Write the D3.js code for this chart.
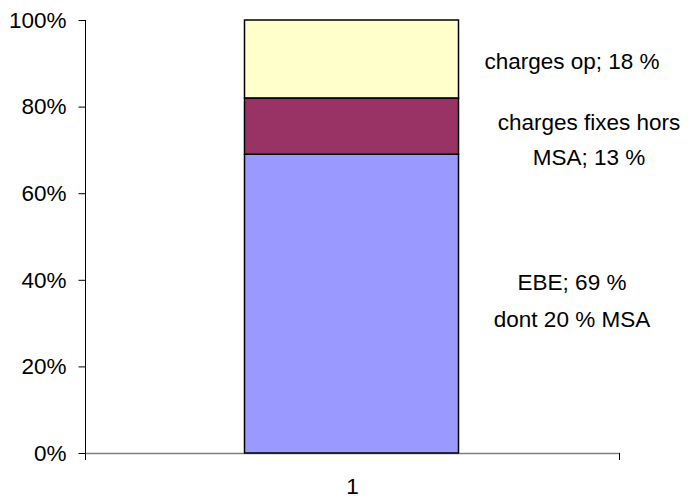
<!DOCTYPE html>
<html><head><meta charset="utf-8">
<script src="https://cdn.jsdelivr.net/npm/d3@7"></script>
<style>body{margin:0;background:#fff}text{font-family:"Liberation Sans",Arial,sans-serif}</style>
</head><body>
<svg id="c" width="690" height="498"></svg>
<script>
const categories = ["1"];
const seriesNames = ["EBE", "charges fixes hors MSA", "charges op"];
const seriesValues = [69, 13, 18];
const seriesColors = ["#9999FF", "#993366", "#FFFFCC"];
const labelLines = [["EBE; 69 %", "dont 20 % MSA"], ["charges fixes hors", "MSA; 13 %"], ["charges op; 18 %"]];
const yTicks = [0, 20, 40, 60, 80, 100];

(function () {
const svg = d3.select("#c");
const mLeft = 85, mRight = 620, mTop = 20, mBottom = 453;
const x = d3.scaleBand().domain(categories).range([mLeft, mRight]).paddingInner(0).paddingOuter(0);
const y = d3.scaleLinear().domain([0, 100]).range([mBottom, mTop]);

let cum = 0;
const stacks = seriesValues.map((v, i) => { const s = {y0: cum, y1: cum + v, i}; cum += v; return s; });

// x axis
svg.append("line").attr("x1", mLeft).attr("x2", mRight).attr("y1", mBottom + 0.5).attr("y2", mBottom + 0.5)
  .attr("stroke", "#808080").attr("stroke-width", 1.5);
svg.append("line").attr("x1", mRight - 0.5).attr("x2", mRight - 0.5).attr("y1", mBottom).attr("y2", mBottom + 7)
  .attr("stroke", "#000").attr("stroke-width", 1);
// y axis
const yAxis = d3.axisLeft(y).tickValues(yTicks).tickFormat(d => d + "%").tickSize(7).tickPadding(12);
const gy = svg.append("g").attr("transform", `translate(${mLeft + 0.5},0)`).call(yAxis);
gy.select(".domain").remove();
gy.selectAll(".tick line").attr("stroke", "#000");
gy.selectAll(".tick text").attr("font-size", "22.5px").attr("fill", "#000").attr("font-family", '"Liberation Sans",Arial,sans-serif');
svg.append("line").attr("x1", mLeft + 0.5).attr("x2", mLeft + 0.5).attr("y1", mTop).attr("y2", mBottom + 7)
  .attr("stroke", "#000").attr("stroke-width", 1);

// bars
const bw = x.bandwidth() * 0.4;
const bx = x(categories[0]) + (x.bandwidth() - bw) / 2 - 1;
svg.selectAll("rect.seg").data(stacks).join("rect")
  .attr("x", bx).attr("width", bw)
  .attr("y", d => y(d.y1)).attr("height", d => y(d.y0) - y(d.y1))
  .attr("fill", d => seriesColors[d.i]).attr("stroke", "#000").attr("stroke-width", 1.5);

// category label
svg.append("text").attr("x", x(categories[0]) + x.bandwidth() / 2).attr("y", 494)
  .attr("text-anchor", "middle").attr("font-size", "22.5px").text(categories[0]);

// data labels
const labelCx = [572, 589, 572];
const labelBase = [290, 130, 69];
const lh = [37, 35, 0];
labelLines.forEach((lines, i) => {
  lines.forEach((t, j) => {
    svg.append("text").attr("x", labelCx[i]).attr("y", labelBase[i] + j * lh[i])
      .attr("text-anchor", "middle").attr("font-size", "22.5px").attr("fill", "#000").text(t);
  });
});
})();
</script>
</body></html>
